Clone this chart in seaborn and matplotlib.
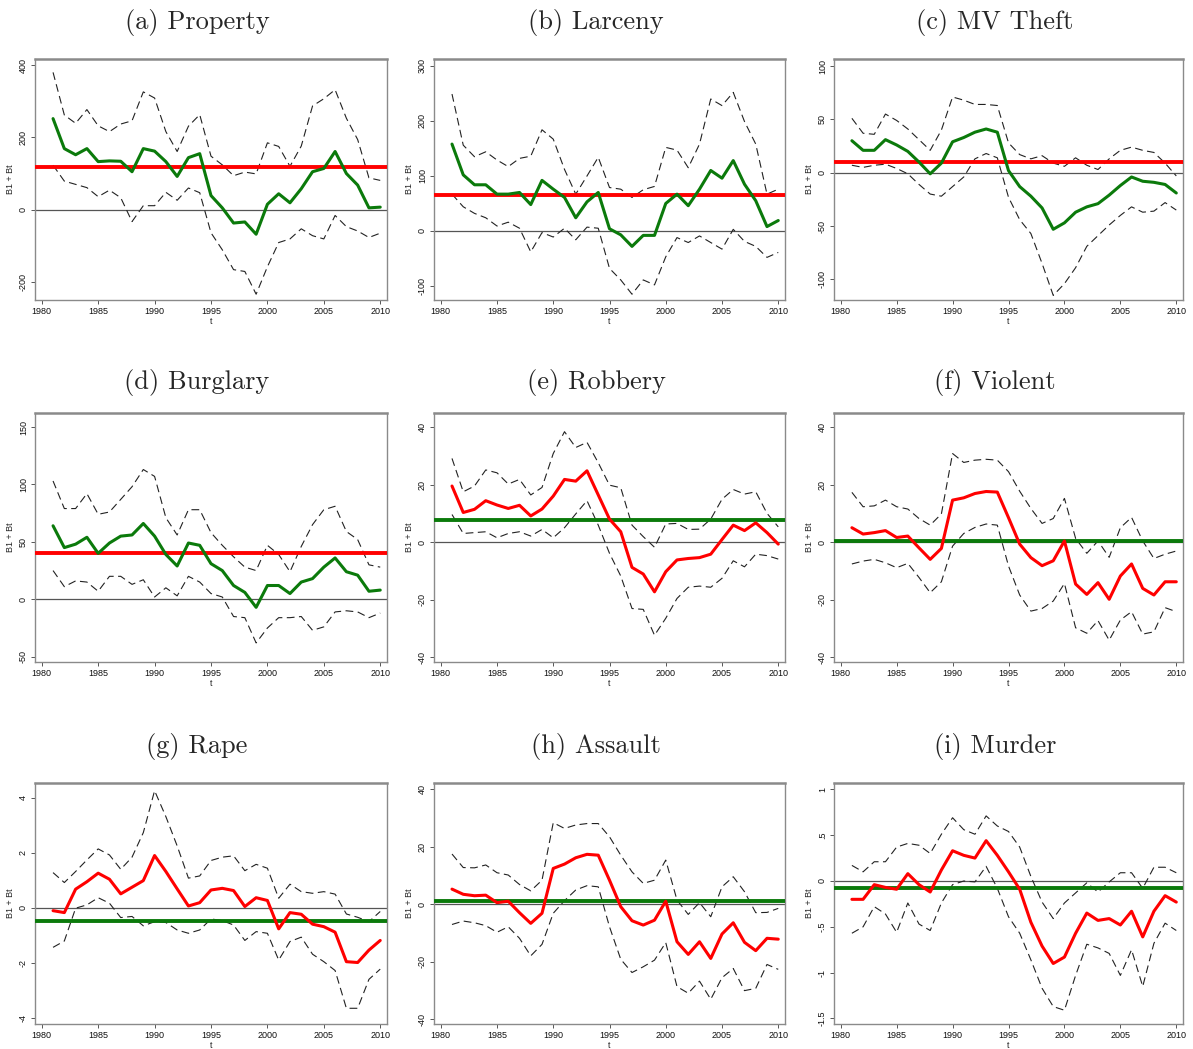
import numpy as np
import pandas as pd
import matplotlib
matplotlib.use("Agg")
import matplotlib.pyplot as plt
from matplotlib.ticker import FuncFormatter
import seaborn as sns

years = list(range(1981, 2011))

titles = ["(a) Property", "(b) Larceny", "(c) MV Theft",
          "(d) Burglary", "(e) Robbery", "(f) Violent",
          "(g) Rape", "(h) Assault", "(i) Murder"]

# (a) Property
prop_est = [252,169,152,169,133,135,134,105,169,162,133,92,144,155,39,5,-37,-34,-68,15,44,19,58,105,114,161,100,68,5,7]
prop_hi = [380,262,239,277,232,216,237,246,326,309,216,161,231,263,148,124,94,104,99,185,175,120,176,287,307,332,253,194,88,81]
prop_lo = [123,79,70,61,36,54,33,-33,11,11,48,26,60,47,-64,-111,-166,-171,-234,-158,-91,-81,-53,-72,-81,-16,-47,-59,-77,-65]
prop_avg = 117

# (b) Larceny
larc_est = [158,102,84,84,67,67,70,48,92,76,61,24,53,70,4,-7,-28,-8,-8,50,67,46,76,110,96,128,85,55,8,19]
larc_hi = [249,156,135,144,129,117,132,136,184,167,112,67,100,134,79,76,61,75,81,152,147,115,158,240,228,252,199,158,67,76]
larc_lo = [67,44,32,24,9,16,5,-38,-3,-11,5,-16,7,5,-68,-89,-115,-89,-98,-47,-12,-21,-9,-21,-33,3,-19,-28,-48,-39]
larc_avg = 66

# (c) MV Theft
mvt_est = [30,21,21,31,26,20,10,-1,9,29,33,38,41,38,2,-13,-22,-33,-53,-47,-37,-32,-29,-21,-12,-4,-8,-9,-11,-19]
mvt_hi = [51,37,36,55,49,41,31,21,40,71,68,64,64,63,28,17,13,16,9,6,14,7,3,13,21,24,21,19,9,-3]
mvt_lo = [7,5,7,8,4,-1,-11,-20,-22,-13,-4,13,18,14,-23,-44,-57,-85,-115,-104,-89,-69,-59,-49,-40,-32,-37,-36,-28,-35]
mvt_avg = 10

# (d) Burglary
burg_est = [64,45,48,54,40,49,55,56,66,55,39,29,49,47,31,25,12,6,-7,12,12,5,15,18,28,36,24,21,7,8]
burg_hi = [103,79,79,92,74,76,87,98,113,107,71,56,78,78,58,47,37,28,25,47,39,24,46,65,78,81,59,52,30,28]
burg_lo = [25,11,16,15,7,20,20,13,17,2,10,3,20,15,5,2,-15,-16,-38,-25,-16,-16,-15,-27,-24,-11,-10,-11,-16,-12]
burg_avg = 40

# (e) Robbery
rob_est = [19.6,10.4,11.5,14.5,13,11.8,12.9,9.2,11.6,16.1,21.9,21.3,24.9,16.5,8.1,3.7,-8.7,-11,-17.2,-10.2,-6.1,-5.6,-5.3,-4.1,1,6,4.1,6.8,3.4,-0.6]
rob_hi = [29.2,17.6,19.6,25.2,24.2,20.3,21.9,16.5,19.1,30.9,38.5,33,34.8,27.7,19.9,19,6,2,-1.7,6.4,6.6,4.5,4.6,8.1,15,18.4,16.8,17.6,10.1,5.4]
rob_lo = [9.7,3.1,3.4,3.7,1.6,3.1,3.7,2.2,4.5,1.6,5.1,9.9,14.5,6,-3.8,-11.7,-23,-23.3,-32.3,-26.4,-19.5,-15.6,-15.2,-15.6,-12.5,-6.4,-8.5,-4.1,-4.6,-5.8]
rob_avg = 7.8

# (f) Violent
viol_est = [5.1,2.9,3.4,4.1,1.7,2.2,-1.9,-5.9,-2.1,14.7,15.5,17,17.7,17.5,8.6,-0.6,-5.3,-8.1,-6.4,0.5,-14.5,-18.1,-14,-19.8,-11.7,-7.5,-16,-18.3,-13.7,-13.7]
viol_hi = [17.4,12.4,12.7,14.7,12.4,11.6,8.3,6,9.9,30.9,27.8,28.6,28.9,28.6,24.6,17.8,11.8,6.6,8.3,15.3,1.4,-3.8,0.5,-5.2,5.1,8.7,0.5,-5.6,-4.1,-3]
viol_lo = [-7.5,-6.5,-5.9,-7.1,-8.8,-7.3,-12.2,-17.5,-13.7,-1.3,3.1,5.2,6.4,6,-8.2,-18.3,-23.9,-23,-20.4,-14.3,-29.7,-31.6,-27.2,-34,-27,-24.1,-31.9,-31.1,-22.7,-24.1]
viol_avg = 0.5

# (g) Rape
rape_est = [-0.1,-0.17,0.68,0.95,1.26,1.04,0.51,0.75,0.99,1.9,1.32,0.69,0.07,0.19,0.65,0.71,0.63,0.05,0.37,0.27,-0.76,-0.17,-0.23,-0.59,-0.68,-0.88,-1.95,-1.98,-1.53,-1.18]
rape_hi = [1.28,0.92,1.32,1.74,2.14,1.92,1.4,1.84,2.73,4.25,3.31,2.25,1.08,1.16,1.72,1.84,1.89,1.35,1.58,1.44,0.35,0.86,0.59,0.53,0.59,0.5,-0.22,-0.34,-0.5,-0.13]
rape_lo = [-1.43,-1.2,-0.01,0.11,0.37,0.17,-0.35,-0.31,-0.65,-0.5,-0.53,-0.8,-0.92,-0.8,-0.4,-0.46,-0.62,-1.18,-0.86,-0.92,-1.89,-1.22,-1.06,-1.68,-1.95,-2.27,-3.64,-3.64,-2.59,-2.22]
rape_avg = -0.46

# (h) Assault
asl_est = [5.2,3.4,2.9,3.1,0.5,1,-3,-6.7,-3.2,12.4,13.9,16.1,17.3,17,8.3,-0.9,-5.8,-7.3,-5.6,1,-13.1,-17.5,-13.1,-18.9,-10.4,-6.5,-13.3,-16.2,-11.9,-12.2]
asl_hi = [17.4,12.7,12.6,13.6,10.9,10.1,6.8,4.6,8.3,28.3,26.3,27.5,28,28,23.4,17,11.2,7.2,8.3,15.3,1.4,-3.6,0.5,-4.4,6,9.5,4.3,-3,-2.9,-1.5]
asl_lo = [-7.1,-5.9,-6.5,-7.5,-9.8,-7.9,-11.9,-18,-14,-3.2,1.2,4.9,6.4,6,-7.9,-19.2,-23.8,-21.8,-19.5,-13.4,-28.7,-31,-26.8,-33.1,-25.6,-22.4,-30.1,-29.3,-21,-22.7]
asl_avg = 1.0

# (i) Murder
mur_est = [-0.2,-0.2,-0.04,-0.07,-0.09,0.08,-0.04,-0.12,0.12,0.33,0.28,0.25,0.44,0.28,0.1,-0.09,-0.45,-0.71,-0.9,-0.83,-0.57,-0.35,-0.43,-0.41,-0.48,-0.33,-0.61,-0.33,-0.16,-0.23]
mur_hi = [0.17,0.1,0.21,0.21,0.37,0.41,0.39,0.3,0.51,0.69,0.56,0.51,0.71,0.6,0.54,0.37,0.05,-0.23,-0.41,-0.24,-0.13,-0.02,-0.12,-0.01,0.09,0.09,-0.08,0.15,0.15,0.09]
mur_lo = [-0.57,-0.5,-0.28,-0.36,-0.56,-0.24,-0.47,-0.54,-0.24,-0.04,0,-0.01,0.16,-0.08,-0.39,-0.57,-0.86,-1.17,-1.37,-1.41,-1.03,-0.69,-0.73,-0.79,-1.03,-0.75,-1.15,-0.68,-0.46,-0.54]
mur_avg = -0.08

yticks_list = [[-200, 0, 200, 400], [-100, 0, 100, 200, 300], [-100, -50, 0, 50, 100],
               [-50, 0, 50, 100, 150], [-40, -20, 0, 20, 40], [-40, -20, 0, 20, 40],
               [-4, -2, 0, 2, 4], [-40, -20, 0, 20, 40], [-1.5, -1, -0.5, 0, 0.5, 1]]
ylims = [(-250, 417), (-125.5, 312.7), (-119.3, 106.6),
         (-54.6, 162.2), (-41.6, 45), (-41.6, 45),
         (-4.21, 4.53), (-41.7, 42.1), (-1.56, 1.069)]
xticks = [1980, 1985, 1990, 1995, 2000, 2005, 2010]

GREEN = "#0b7a0b"
RED = "#ff0000"

panels = [
    (prop_est, prop_hi, prop_lo, prop_avg, GREEN, RED),
    (larc_est, larc_hi, larc_lo, larc_avg, GREEN, RED),
    (mvt_est, mvt_hi, mvt_lo, mvt_avg, GREEN, RED),
    (burg_est, burg_hi, burg_lo, burg_avg, GREEN, RED),
    (rob_est, rob_hi, rob_lo, rob_avg, RED, GREEN),
    (viol_est, viol_hi, viol_lo, viol_avg, RED, GREEN),
    (rape_est, rape_hi, rape_lo, rape_avg, RED, GREEN),
    (asl_est, asl_hi, asl_lo, asl_avg, RED, GREEN),
    (mur_est, mur_hi, mur_lo, mur_avg, RED, GREEN),
]

sns.set_theme(style="white")
plt.rcParams['font.family'] = ['Liberation Sans', 'DejaVu Sans']

W, H = 1193, 1049
fig = plt.figure(figsize=(W / 100, H / 100), dpi=100)
fig.patch.set_facecolor("white")

cols = [(35, 387), (434, 785), (834, 1183)]
rows = [(59, 300), (413, 662), (783, 1024)]
title_y = [22, 383, 746]
title_x = [197, 596, 995]


def fmt(v, pos):
    if abs(v - round(v)) < 1e-9:
        return str(int(round(v)))
    s = ("%g" % v)
    return s.replace("0.", ".")


for i, (est, hi, lo, avg, c_est, c_avg) in enumerate(panels):
    r, c = divmod(i, 3)
    L, R = cols[c]
    T, B = rows[r]
    ax = fig.add_axes([L / W, 1 - B / H, (R - L) / W, (B - T) / H])
    df = pd.DataFrame({"t": years, "est": est, "hi": hi, "lo": lo})
    ax.axhline(0, color="#555555", lw=0.9, zorder=1)
    sns.lineplot(data=df, x="t", y="hi", ax=ax, color="#222222", lw=0.8,
                 linestyle=(0, (7, 4)), zorder=2)
    sns.lineplot(data=df, x="t", y="lo", ax=ax, color="#222222", lw=0.8,
                 linestyle=(0, (7, 4)), zorder=2)
    ax.axhline(avg, color=c_avg, lw=2.8, zorder=3)
    sns.lineplot(data=df, x="t", y="est", ax=ax, color=c_est, lw=2.2, zorder=4)
    ax.set_xlim(1979.4, 2010.6)
    ax.set_ylim(*ylims[i])
    ax.set_xticks(xticks)
    ax.set_yticks(yticks_list[i])
    ax.yaxis.set_major_formatter(FuncFormatter(fmt))
    ax.tick_params(axis="both", which="major", labelsize=6.5, length=3, width=0.7,
                   color="#555555", direction="out", pad=2, left=True, bottom=True,
                   labelcolor="#111111")
    for lab in ax.get_yticklabels():
        lab.set_rotation(90)
        lab.set_va("center")
    ax.set_xlabel("t", fontsize=6.5, labelpad=1)
    ax.set_ylabel("B1 + Bt", fontsize=6.5, labelpad=3)
    for sp in ax.spines.values():
        sp.set_color("#8a8a8a")
        sp.set_linewidth(1.0)
    ax.spines["top"].set_linewidth(1.8)
    ax.grid(False)
    fig.text(title_x[c] / W, 1 - title_y[r] / H, titles[i], ha="center", va="center",
             fontsize=19, family="cmr10")

fig.savefig("out.png", dpi=100, facecolor="white")
